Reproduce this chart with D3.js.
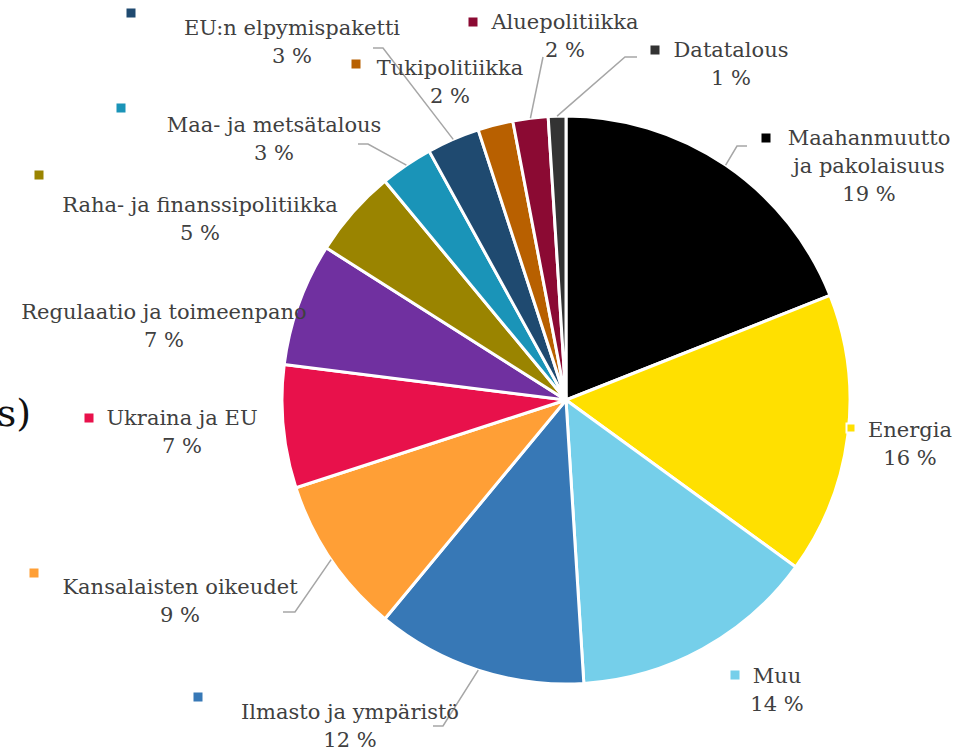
<!DOCTYPE html>
<html>
<head>
<meta charset="utf-8">
<script src="https://cdn.jsdelivr.net/npm/d3@7"></script>
<style>
  body { margin: 0; background: #fff; }
  #chart { width: 963px; height: 748px; overflow: hidden; }
  text { font-family: 'DejaVu Serif', Georgia, serif; }
</style>
</head>
<body>
<div id="chart"></div>
<script>
//Datos
const categorias = ['Maahanmuutto ja pakolaisuus', 'Energia', 'Muu', 'Ilmasto ja ympäristö', 'Kansalaisten oikeudet',
    'Ukraina ja EU', 'Regulaatio ja toimeenpano', 'Raha- ja finanssipolitiikka', 'Maa- ja metsätalous',
    'EU:n elpymispaketti', 'Tukipolitiikka', 'Aluepolitiikka', 'Datatalous'];
const valores = [19, 16, 14, 12, 9, 7, 7, 5, 3, 3, 2, 2, 1];
const colores = ['#000000', '#FFE000', '#75CFEA', '#3778B6', '#FF9F36', '#E8114B', '#7030A0',
    '#9A8400', '#1A94B8', '#1F4A70', '#B86000', '#8B0A33', '#333333'];

//Posición de etiquetas (layout): centro texto, cuadrado, líneas guía
const etiquetas = {
    'Maahanmuutto ja pakolaisuus': { x: 869, y: 138, lines: ['Maahanmuutto', 'ja pakolaisuus'], sq: [766, 138], lead: [[747, 146], [737, 146]] },
    'Energia': { x: 910, y: 430, sq: [851, 428], sqBorder: true },
    'Muu': { x: 777, y: 676, sq: [735, 675] },
    'Ilmasto ja ympäristö': { x: 350, y: 712, sq: [198, 697], lead: [[433, 726], [443, 726]] },
    'Kansalaisten oikeudet': { x: 180, y: 587, sq: [34, 573], lead: [[283, 612], [295, 612]] },
    'Ukraina ja EU': { x: 182, y: 418, sq: [89, 418] },
    'Regulaatio ja toimeenpano': { x: 164, y: 312, sq: null },
    'Raha- ja finanssipolitiikka': { x: 200, y: 205, sq: [39, 175] },
    'Maa- ja metsätalous': { x: 274, y: 125, sq: [121, 108], lead: [[358, 144], [368, 144]] },
    'EU:n elpymispaketti': { x: 292, y: 28, sq: [131, 13], lead: [[373, 48], [383, 48]] },
    'Tukipolitiikka': { x: 450, y: 68, sq: [356, 64] },
    'Aluepolitiikka': { x: 565, y: 22, sq: [473, 22], lead: [[543, 57]] },
    'Datatalous': { x: 731, y: 50, sq: [655, 50], lead: [[637, 57], [625, 57]] }
};

let width = 963, height = 748;
let cx = 566, cy = 400, radius = 284;

let svg = d3.select('#chart')
    .append('svg')
    .attr('width', width)
    .attr('height', height);

//Título cortado a la izquierda
svg.append('text')
    .attr('x', 31)
    .attr('y', 426)
    .attr('text-anchor', 'end')
    .style('font-size', '38px')
    .style('fill', '#111')
    .text('s)');

let data = categorias.map(function(d, i) { return { name: d, value: valores[i], color: colores[i] }; });

let pie = d3.pie()
    .value(function(d) { return d.value; })
    .sort(null);

let arc = d3.arc()
    .innerRadius(0)
    .outerRadius(radius);

let arcs = pie(data);

let g = svg.append('g')
    .attr('transform', 'translate(' + cx + ',' + cy + ')');

g.selectAll('path')
    .data(arcs)
    .enter()
    .append('path')
    .attr('d', arc)
    .attr('fill', function(d) { return d.data.color; })
    .attr('stroke', '#fff')
    .attr('stroke-width', 3)
    .attr('stroke-linejoin', 'round');

//Líneas guía
arcs.forEach(function(d) {
    let e = etiquetas[d.data.name];
    if (!e.lead) return;
    let a = (d.startAngle + d.endAngle) / 2;
    let end = [cx + radius * Math.sin(a), cy - radius * Math.cos(a)];
    let pts = e.lead.concat([end]);
    svg.append('path')
        .attr('d', d3.line()(pts))
        .attr('fill', 'none')
        .attr('stroke', '#A6A6A6')
        .attr('stroke-width', 1.5);
});

//Etiquetas
arcs.forEach(function(d) {
    let e = etiquetas[d.data.name];
    let lines = (e.lines || [d.data.name]).concat([d.data.value + ' %']);
    let t = svg.append('text')
        .attr('text-anchor', 'middle')
        .style('font-size', '21px')
        .style('fill', '#404040');
    lines.forEach(function(l, i) {
        t.append('tspan')
            .attr('x', e.x)
            .attr('y', e.y + 7 + i * 28)
            .text(l);
    });
    if (e.sq) {
        svg.append('rect')
            .attr('x', e.sq[0] - 4.5)
            .attr('y', e.sq[1] - 4.5)
            .attr('width', 9)
            .attr('height', 9)
            .attr('fill', d.data.color)
            .attr('stroke', e.sqBorder ? '#fff' : 'none')
            .attr('stroke-width', 2);
    }
});
</script>
</body>
</html>
